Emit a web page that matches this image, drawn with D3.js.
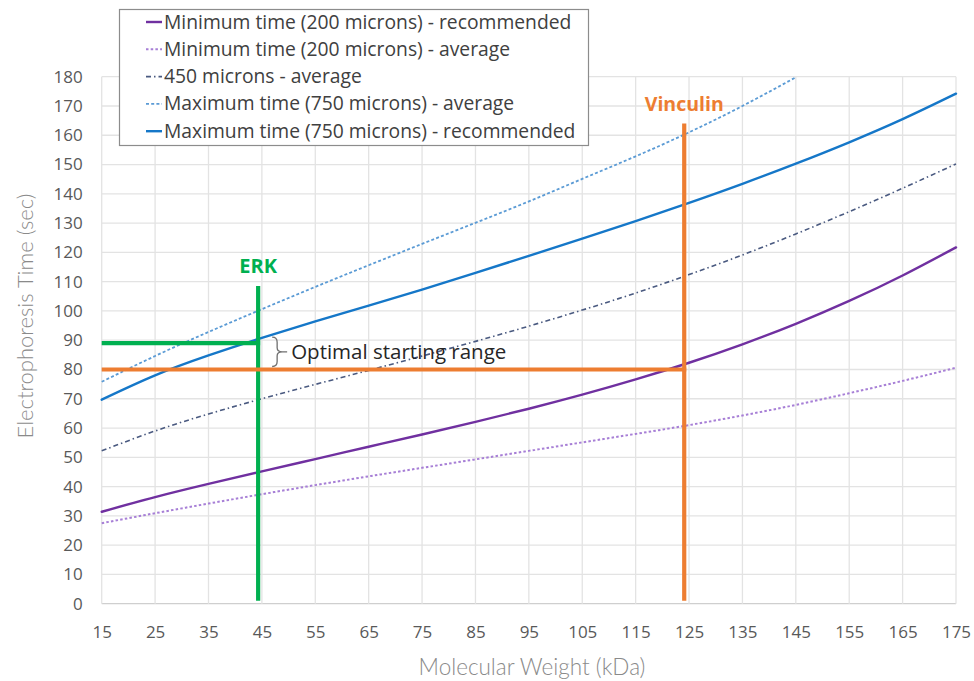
<!DOCTYPE html>
<html>
<head>
<meta charset="utf-8">
<script src="https://cdn.jsdelivr.net/npm/d3@7/dist/d3.min.js"></script>
<style>
  html, body { margin: 0; padding: 0; background: #fff; }
  svg { display: block; }
</style>
</head>
<body>
<svg id="chart" width="974" height="681"></svg>
<script>
// Molecular weight (kDa) sample points
const weights = [15, 25, 35, 45, 55, 65, 75, 85, 95, 105, 115, 125, 135, 145, 155, 165, 175];

// Electrophoresis time (sec) per series
const minRecommended = [31.4, 36.4, 40.9, 45.2, 49.4, 53.6, 57.8, 62.1, 66.6, 71.4, 76.6, 82.3, 88.6, 95.6, 103.4, 112.1, 121.7];
const minAverage     = [27.5, 30.9, 34.2, 37.4, 40.5, 43.5, 46.4, 49.3, 52.2, 55.1, 58.0, 61.0, 64.3, 67.9, 71.9, 76.1, 80.6];
const mid450Average  = [52.2, 59.0, 64.8, 70.0, 74.9, 79.7, 84.6, 89.6, 94.8, 100.3, 106.1, 112.4, 119.1, 126.3, 133.9, 141.9, 150.2];
const maxAverage     = [75.8, 84.6, 92.8, 100.6, 108.2, 115.6, 122.9, 130.1, 137.4, 145.1, 152.8, 161.0, 170.0, 179.8];
const maxRecommended = [69.7, 78.0, 84.8, 90.8, 96.4, 101.8, 107.3, 113.0, 118.8, 124.7, 130.7, 136.9, 143.4, 150.3, 157.6, 165.5, 174.2];

const seriesNames = [
  "Minimum time (200 microns) - recommended",
  "Minimum time (200 microns) - average",
  "450 microns - average",
  "Maximum time (750 microns) - average",
  "Maximum time (750 microns) - recommended"
];

// Axis ticks
const xTicks = [15, 25, 35, 45, 55, 65, 75, 85, 95, 105, 115, 125, 135, 145, 155, 165, 175];
const yTicks = [0, 10, 20, 30, 40, 50, 60, 70, 80, 90, 100, 110, 120, 130, 140, 150, 160, 170, 180];

// Protein markers
const erk = { name: "ERK", weight: 44.3, top: 108.5, level: 89, bottom: 1 };
const vinculin = { name: "Vinculin", weight: 124.1, top: 164, level: 80, bottom: 1 };
const rangeLabel = "Optimal starting range";

const styles = [
  { color: "#7030a0", width: 2.4, dash: null },
  { color: "#a77fd6", width: 2, dash: "2.5,2.2" },
  { color: "#4a5a80", width: 1.6, dash: "5,3,1.5,3" },
  { color: "#5b9bd5", width: 1.8, dash: "3,2.2" },
  { color: "#1577c8", width: 2.4, dash: null }
];

const svg = d3.select("#chart");
const plot = { left: 101.7, right: 956, top: 76.7, bottom: 603.7 };

const x = d3.scaleLinear().domain([15, 175]).range([plot.left, plot.right]);
const y = d3.scaleLinear().domain([0, 180]).range([plot.bottom, plot.top]);

// Gridlines
const grid = svg.append("g");
grid.selectAll("line.h").data(yTicks).join("line")
  .attr("x1", plot.left).attr("x2", plot.right)
  .attr("y1", d => y(d)).attr("y2", d => y(d))
  .attr("stroke", d => d === 0 ? "#cfcfcf" : "#e3e3e3").attr("stroke-width", 1.3);
grid.selectAll("line.v").data(xTicks).join("line")
  .attr("y1", plot.top).attr("y2", plot.bottom)
  .attr("x1", d => x(d)).attr("x2", d => x(d))
  .attr("stroke", "#e3e3e3").attr("stroke-width", 1.3);

// Tick labels via axes (no domain / tick marks)
const tickFont = "'Open Sans', 'Liberation Sans', sans-serif";
const yAxis = svg.append("g").attr("transform", `translate(${plot.left - 19},0)`)
  .call(d3.axisLeft(y).tickValues(yTicks).tickSize(0).tickPadding(0));
const xAxis = svg.append("g").attr("transform", `translate(0,${plot.bottom + 22})`)
  .call(d3.axisBottom(x).tickValues(xTicks).tickSize(0).tickPadding(0));
[yAxis, xAxis].forEach(a => {
  a.select(".domain").remove();
  a.selectAll("text").attr("fill", "#595959").style("font-family", tickFont).style("font-size", "17px");
});
xAxis.selectAll("text").attr("dy", "0.71em");

// Axis titles
const titleFont = "Lato, 'Open Sans', sans-serif";
svg.append("text")
  .attr("transform", `translate(33,316) rotate(-90)`)
  .attr("text-anchor", "middle")
  .attr("fill", "#8a8a8a")
  .style("font-family", titleFont).style("font-weight", 300).style("font-size", "22px")
  .text("Electrophoresis Time (sec)");
svg.append("text")
  .attr("x", 532).attr("y", 675)
  .attr("text-anchor", "middle")
  .attr("fill", "#8a8a8a")
  .style("font-family", titleFont).style("font-weight", 300).style("font-size", "22.5px")
  .text("Molecular Weight (kDa)");

// Series
const allSeries = [minRecommended, minAverage, mid450Average, maxAverage, maxRecommended];
const line = d3.line().x(d => x(d[0])).y(d => y(d[1])).curve(d3.curveNatural);
const lines = svg.append("g");
allSeries.forEach((vals, i) => {
  const pts = vals.map((v, j) => [weights[j], v]);
  lines.append("path")
    .attr("d", line(pts))
    .attr("fill", "none")
    .attr("stroke", styles[i].color)
    .attr("stroke-width", styles[i].width)
    .attr("stroke-dasharray", styles[i].dash)
    .attr("stroke-linecap", styles[i].dash ? "butt" : "round");
});

// Protein marker lines
function marker(m, color, size) {
  const g = svg.append("g").attr("stroke", color).attr("stroke-width", 4.2);
  g.append("line").attr("x1", x(m.weight)).attr("x2", x(m.weight)).attr("y1", y(m.bottom)).attr("y2", y(m.top));
  g.append("line").attr("x1", x(15)).attr("x2", x(m.weight) + 2).attr("y1", y(m.level)).attr("y2", y(m.level));
  svg.append("text")
    .attr("x", x(m.weight)).attr("y", y(m.top) - 13)
    .attr("text-anchor", "middle")
    .attr("fill", color)
    .style("font-family", "'Open Sans', 'Liberation Sans', sans-serif").style("font-weight", 700).style("font-size", size + "px")
    .text(m.name);
}
marker(erk, "#00b050", 20);
marker(vinculin, "#ed7d31", 19.5);

// Brace marking the range between the two levels
const bx = x(erk.weight) + 19;
const yTop = y(erk.level) - 6, yBot = y(vinculin.level) - 3;
const yMid = (yTop + yBot) / 2;
svg.append("path")
  .attr("d", `M${bx - 5},${yTop} Q${bx},${yTop} ${bx},${yTop + 5} L${bx},${yMid - 4} Q${bx},${yMid} ${bx + 5},${yMid}` +
             ` Q${bx},${yMid} ${bx},${yMid + 4} L${bx},${yBot - 5} Q${bx},${yBot} ${bx - 5},${yBot}` +
             ` M${bx + 5},${yMid} L${bx + 10},${yMid}`)
  .attr("fill", "none").attr("stroke", "#6f6f6f").attr("stroke-width", 1.3);
svg.append("text")
  .attr("x", bx + 14).attr("y", yMid + 7)
  .attr("fill", "#262626")
  .style("font-family", "'Open Sans', 'Liberation Sans', sans-serif").style("font-size", "20.5px")
  .text(rangeLabel);

// Legend
const legend = svg.append("g");
legend.append("rect").attr("x", 119.5).attr("y", 9.5).attr("width", 469).attr("height", 136)
  .attr("fill", "#fff").attr("stroke", "#8c8c8c").attr("stroke-width", 1.2);
seriesNames.forEach((name, i) => {
  const cy = 22 + i * 27.3;
  legend.append("line").attr("x1", 146).attr("x2", 162).attr("y1", cy).attr("y2", cy)
    .attr("stroke", styles[i].color).attr("stroke-width", styles[i].width)
    .attr("stroke-dasharray", styles[i].dash);
  legend.append("text").attr("x", 164).attr("y", cy + 6.5)
    .attr("fill", "#404040")
    .style("font-family", "'Open Sans', 'Liberation Sans', sans-serif").style("font-size", "19.3px")
    .text(name);
});
</script>
</body>
</html>
